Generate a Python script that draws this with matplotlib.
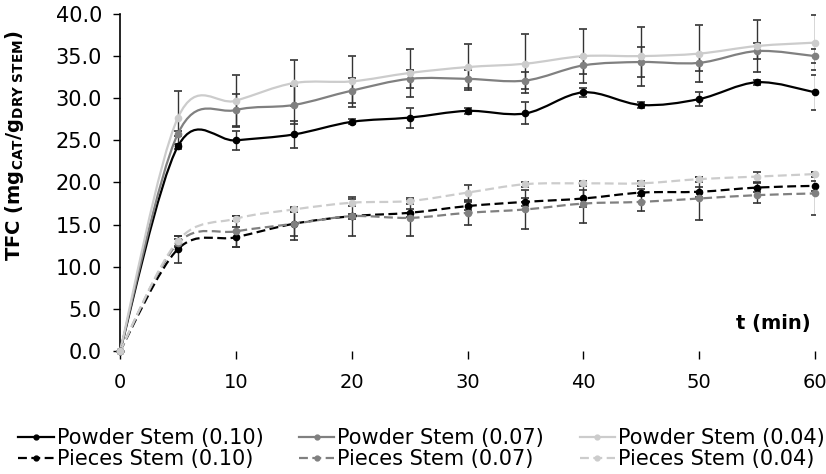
import numpy as np
import matplotlib
matplotlib.use("Agg")
import matplotlib.pyplot as plt
from matplotlib.path import Path
from matplotlib.patches import PathPatch
from matplotlib.lines import Line2D

plt.rcParams['font.family'] = ['DejaVu Sans']

# ---- data
t = [0, 5, 10, 15, 20, 25, 30, 35, 40, 45, 50, 55, 60]

powder_010 = [0, 24.3, 25.0, 25.7, 27.2, 27.7, 28.5, 28.2, 30.7, 29.2, 29.9, 31.9, 30.7]
powder_007 = [0, 25.8, 28.6, 29.2, 30.9, 32.3, 32.3, 32.1, 33.9, 34.3, 34.2, 35.6, 35.0]
powder_004 = [0, 27.7, 29.7, 31.8, 32.0, 33.0, 33.7, 34.1, 35.0, 35.0, 35.3, 36.2, 36.6]
pieces_010 = [0, 12.1, 13.5, 15.1, 16.0, 16.4, 17.2, 17.7, 18.1, 18.8, 18.9, 19.4, 19.6]
pieces_007 = [0, 12.8, 14.2, 15.1, 16.0, 15.8, 16.4, 16.8, 17.5, 17.7, 18.1, 18.5, 18.7]
pieces_004 = [0, 13.1, 15.7, 16.8, 17.6, 17.8, 18.8, 19.8, 19.9, 19.9, 20.4, 20.7, 21.0]

err_powder_010 = [0, 0.3, 1.1, 1.6, 0.3, 1.2, 0.4, 1.3, 0.5, 0.3, 0.8, 0.3, 2.1]
err_powder_007 = [0, 0.3, 1.9, 2.2, 1.5, 1.1, 1.1, 1.0, 1.0, 1.8, 1.0, 0.9, 0.8]
err_powder_004 = [0, 3.1, 3.1, 2.7, 3.0, 2.9, 2.7, 3.5, 3.2, 3.5, 3.4, 3.1, 3.3]
err_pieces_010 = [0, 1.6, 1.2, 1.9, 0.3, 0.5, 0.5, 0.5, 1.0, 0.4, 0.6, 0.5, 0.6]
err_pieces_007 = [0, 0.5, 1.8, 1.4, 2.3, 2.1, 1.4, 2.3, 2.3, 1.1, 2.6, 0.9, 2.5]
err_pieces_004 = [0, 0.6, 0.3, 0.3, 0.4, 0.3, 0.9, 0.3, 0.3, 0.3, 0.3, 0.6, 0.3]

labels = ["Powder Stem (0.10)", "Powder Stem (0.07)", "Powder Stem (0.04)",
          "Pieces Stem (0.10)", "Pieces Stem (0.07)", "Pieces Stem (0.04)"]
series = [powder_010, powder_007, powder_004, pieces_010, pieces_007, pieces_004]
errors = [err_powder_010, err_powder_007, err_powder_004,
          err_pieces_010, err_pieces_007, err_pieces_004]
colors = ["#000000", "#808080", "#cccccc", "#000000", "#808080", "#cccccc"]
styles = ["-", "-", "-", (0, (4, 2)), (0, (4, 2)), (0, (4, 2))]


def smooth_path(x, y):
    # excel-like smoothed line (catmull-rom as bezier segments)
    pts = np.column_stack([x, y]).astype(float)
    n = len(pts)
    verts = [pts[0]]
    codes = [Path.MOVETO]
    for i in range(n - 1):
        p0 = pts[i - 1] if i > 0 else pts[i]
        p1 = pts[i]
        p2 = pts[i + 1]
        p3 = pts[i + 2] if i + 2 < n else pts[i + 1]
        verts += [p1 + (p2 - p0) / 6, p2 - (p3 - p1) / 6, p2]
        codes += [Path.CURVE4] * 3
    return Path(verts, codes)


fig = plt.figure(figsize=(8.26, 4.74), dpi=100)
ax = fig.add_axes([0.1453, 0.2595, 0.8414, 0.711])

handles = []
for y, e, c, ls, lab in zip(series, errors, colors, styles, labels):
    ax.errorbar(t[1:], y[1:], yerr=e[1:], fmt='none', ecolor='#333333',
                elinewidth=1, capsize=3, capthick=1.2, zorder=2)
    ax.add_patch(PathPatch(smooth_path(t, y), fill=False, edgecolor=c,
                           lw=1.6, linestyle=ls, clip_on=False, zorder=3))
    ax.plot(t, y, 'o', color=c, ms=4.5, clip_on=False, zorder=4)
    handles.append(Line2D([], [], color=c, lw=1.6, linestyle=ls,
                          marker='o', ms=3.5))

ax.set_xlim(0, 60)
ax.set_ylim(0, 40)
ax.set_xticks(range(0, 61, 10))
ax.set_yticks(np.arange(0, 40.1, 5))
ax.set_yticklabels(["%.1f" % v for v in np.arange(0, 40.1, 5)])
ax.tick_params(axis='y', labelsize=15, length=5, width=1, pad=8)
ax.tick_params(axis='x', labelsize=14, length=6, width=1, pad=10)

for s in ['top', 'right', 'bottom']:
    ax.spines[s].set_visible(False)
ax.spines['left'].set_linewidth(1.2)

ax.set_ylabel(r'TFC (mg$_{\mathbf{CAT}}$/g$_{\mathbf{DRY\ STEM}}$)',
              fontsize=14, fontweight='bold')
ax.yaxis.set_label_coords(-0.135, 0.61)
ax.text(0.993, 0.083, 't (min)', transform=ax.transAxes, ha='right',
        va='center', fontsize=14, fontweight='bold')

# legend filled row by row like the original
order = [0, 3, 1, 4, 2, 5]
fig.legend([handles[i] for i in order], [labels[i] for i in order],
           ncol=3, loc='upper left', bbox_to_anchor=(0.022, 0.097),
           frameon=False, fontsize=15, handlelength=1.7, handletextpad=0.15,
           columnspacing=1.7, labelspacing=0.05, borderaxespad=0, borderpad=0)

fig.savefig("out.png", dpi=100)
